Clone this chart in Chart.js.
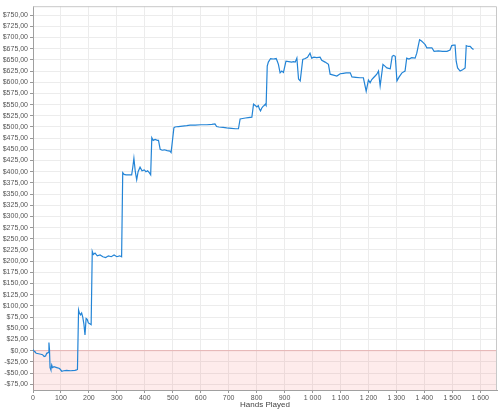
<!DOCTYPE html>
<html>
<head>
<meta charset="utf-8">
<script src="https://cdn.jsdelivr.net/npm/chart.js@4"></script>
<style>
html,body{margin:0;padding:0;background:#fff;}
#wrap{width:500px;height:410px;position:relative;}
</style>
</head>
<body>
<div id="wrap"><canvas id="c" width="500" height="410"></canvas></div>
<script>
const hands = [
  0,4,7,12,20,28,34,40,45,49,
  53,55,57,59,61,64,67,70,75,85,
  95,103,110,120,135,150,156,159,160,163,
  166,170,174,178,182,186,190,194,198,203,
  208,210,212,216,222,230,240,250,260,270,
  280,290,300,310,317,321,326,333,340,347,
  353,357,361,366,371,376,383,390,398,404,
  410,416,421,425,430,437,445,449,455,462,
  470,480,490,494,499,504,508,520,535,550,
  562,580,600,622,640,651,657,665,680,693,
  710,725,735,741,750,760,770,783,789,795,
  801,806,810,814,818,823,827,831,834,838,
  842,850,860,870,874,878,884,890,896,905,
  915,925,932,938,944,950,956,958,965,974,
  982,991,997,1005,1015,1027,1033,1045,1057,1063,
  1075,1087,1099,1110,1120,1135,1141,1155,1170,1182,
  1192,1200,1206,1212,1218,1224,1230,1236,1242,1252,
  1259,1266,1278,1285,1290,1296,1302,1310,1320,1331,
  1337,1345,1355,1367,1373,1378,1383,1390,1397,1403,
  1409,1418,1427,1435,1450,1465,1481,1492,1498,1505,
  1510,1514,1519,1528,1537,1546,1550,1557,1564,1570,
  1576
];
const profit = [
  2,-1,-3,-6,-7,-8,-9,-13,-12,-6,
  -5,-4,18,2,-38,-43,-32,-38,-36,-38,
  -40,-46,-45,-44,-45,-44,-43,-42,-42,91,
  84,80,84,75,60,35,72,70,62,60,
  58,58,222,215,218,212,214,210,208,212,
  210,214,210,212,210,398,394,393,393,393,
  393,410,430,400,382,400,410,402,404,400,
  402,398,393,476,470,472,470,470,450,448,
  449,447,446,443,470,498,500,501,502,503,
  504,504,505,505,506,507,501,500,499,498,
  497,496,496,518,519,520,521,522,551,548,
  545,548,540,536,542,546,548,551,548,636,
  645,653,652,653,647,640,621,625,622,647,
  646,645,646,645,654,607,603,603,651,653,
  656,665,654,656,655,656,649,645,640,618,
  616,614,619,620,621,621,612,611,610,610,
  580,605,599,606,610,614,618,625,592,640,
  636,632,630,658,660,658,603,612,621,625,
  654,652,655,654,665,680,695,692,688,684,
  677,677,677,669,670,669,669,672,682,683,
  683,647,632,625,628,632,682,680,680,676,
  673
];
const xTickValues = [0,100,200,300,400,500,600,700,800,900,1000,1100,1200,1300,1400,1500,1600];
const yTickValues = [-75,-50,-25,0,25,50,75,100,125,150,175,200,225,250,275,300,325,350,375,400,425,450,475,500,525,550,575,600,625,650,675,700,725,750];
const xMin = 0, xMax = 1660;
const yMin = -88, yMax = 770;
const xTitle = 'Hands Played';

const points = hands.map((h,i)=>({x:h,y:profit[i]}));
const zeroBand = [{x:xMin,y:0},{x:xMax,y:0}];

function fmtX(v){
  if (v >= 1000) { const r = v % 1000; return Math.floor(v/1000) + ' ' + String(r).padStart(3,'0'); }
  return String(v);
}
function fmtY(v){
  const s = Math.abs(v).toFixed(2).replace('.', ',');
  return (v < 0 ? '-$' : '$') + s;
}

const frame = {
  id:'frame',
  afterDatasetsDraw(chart){
    const {ctx, chartArea:a} = chart;
    ctx.save();
    ctx.strokeStyle = '#c8c8c8';
    ctx.lineWidth = 1;
    ctx.beginPath();
    ctx.moveTo(a.left, a.top+0.5); ctx.lineTo(a.right-0.5, a.top+0.5); ctx.lineTo(a.right-0.5, a.bottom);
    ctx.stroke();
    ctx.restore();
  }
};

const font = {family:'"Liberation Sans", Arial, sans-serif', size:7};

new Chart(document.getElementById('c'), {
  type:'line',
  data:{datasets:[
    {data:zeroBand, borderColor:'#e6b3b3', borderWidth:1, backgroundColor:'rgba(245,90,90,0.12)', fill:'start', pointRadius:0, order:2},
    {data:points, borderColor:'#2384d6', borderWidth:1.2, pointRadius:0, fill:false, tension:0, order:1}
  ]},
  options:{
    responsive:false, animation:false,
    plugins:{legend:{display:false}, tooltip:{enabled:false}},
    layout:{padding:{top:1, right:3, left:0, bottom:0}},
    scales:{
      x:{type:'linear', min:xMin, max:xMax,
        afterBuildTicks(s){ s.ticks = xTickValues.map(v=>({value:v})); },
        afterFit(s){ s.height = 20; },
        ticks:{font:font, color:'#555', padding:1, maxRotation:0, autoSkip:false, callback:(v)=>fmtX(v)},
        grid:{color:'#ececec', lineWidth:1, tickLength:3, tickColor:'#999'},
        border:{color:'#a0a0a0'},
        title:{display:true, text:xTitle, font:{family:'"Liberation Sans", Arial, sans-serif', size:8}, color:'#444', padding:{top:0,bottom:0}}
      },
      y:{type:'linear', min:yMin, max:yMax,
        afterBuildTicks(s){ s.ticks = yTickValues.map(v=>({value:v})); },
        afterFit(s){ s.width = 33; },
        ticks:{font:font, color:'#555', padding:2, autoSkip:false, callback:(v)=>fmtY(v)},
        grid:{color:'#ececec', lineWidth:1, tickLength:3, tickColor:'#999'},
        border:{color:'#a0a0a0'}
      }
    }
  },
  plugins:[frame]
});
</script>
</body>
</html>
